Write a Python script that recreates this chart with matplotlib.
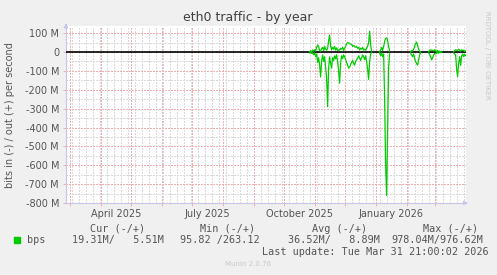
import numpy as np
import pandas as pd
import matplotlib
matplotlib.use("Agg")
import matplotlib.pyplot as plt
from matplotlib.transforms import blended_transform_factory

# Daily traffic in Mbit/s. Each segment is a run of days with data.
seg_starts = ["2025-10-26", "2026-01-04", "2026-02-04", "2026-02-22", "2026-03-19"]
out_vals = [
    [3, 6, 2, 10, 4, 12, 6, 25, 37, 30, 8, 4, 18, 25, 8, 30, 15, 10, 20, 60, 90, 30,
     12, 25, 15, 30, 10, 22, 8, 12, 10, 20, 15, 25, 8, 20, 30, 45, 50, 48, 45, 42, 40,
     30, 35, 28, 25, 30, 20, 25, 12, 20, 15, 25, 10, 15, 10, 20, 30, 50, 110, 40, 5],
    [2, 10, 25, 8, 30, 55, 72, 75, 60, 30, 5],
    [3, 8, 5, 15, 30, 45, 53, 35, 15, 5, 2],
    [2, 8, 12, 8, 10, 5, 12, 6, 3, 8, 2, 5, 1, 4],
    [2, 8, 12, 10, 8, 15, 10, 5, 12, 8, 10, 3, 5.51],
]
in_vals = [
    [5, 2, 8, 4, 14, 6, 25, 10, 55, 30, 70, 132, 45, 15, 50, 25, 80, 140, 290, 90, 25, 60,
     85, 30, 45, 20, 35, 15, 50, 100, 165, 60, 20, 35, 15, 25, 40, 55, 70, 85, 80, 65, 55,
     45, 60, 70, 50, 40, 35, 20, 30, 45, 30, 15, 25, 40, 20, 50, 90, 145, 50, 10, 3],
    [5, 20, 5, 25, 10, 250, 600, 760, 420, 80, 10],
    [5, 15, 25, 10, 35, 50, 62, 69, 40, 15, 3],
    [5, 12, 25, 42, 30, 15, 8, 10, 5, 3, 6, 2, 4, 1],
    [5, 10, 15, 90, 130, 60, 25, 70, 20, 10, 25, 12, 19.31],
]

y_ticks = [100, 0, -100, -200, -300, -400, -500, -600, -700, -800]
y_labels = ["100 M", "0", "-100 M", "-200 M", "-300 M", "-400 M",
            "-500 M", "-600 M", "-700 M", "-800 M"]
x_label_months = ["2025-04-16", "2025-07-16", "2025-10-16", "2026-01-16"]

t_start = pd.Timestamp("2025-02-24 21:00")
t_end = pd.Timestamp("2026-03-31 21:00")

green = "#00CC00"
major_c = "#F0B0B0"
minor_c = "#DADADA"
axis_c = "#C4C4EC"
text_c = "#555555"

W, H = 497, 275
fig = plt.figure(figsize=(W / 100, H / 100), dpi=100, facecolor="#F0F0F0")
ax = fig.add_axes([66 / W, 1 - 203 / H, 400 / W, 177 / H])
ax.set_facecolor("white")

ax.set_xlim(t_start, t_end)
ax.set_ylim(-800, 138)

# grid, drawn crisp like rrdtool's 1px dotted lines
grid = dict(lw=0.75, ls=(0, (1, 1)), zorder=1, antialiased=False)
for d in pd.date_range("2025-02-24", "2026-04-01", freq="W-MON"):
    ax.axvline(d, color=minor_c, **grid)
months = pd.date_range("2025-03-01", "2026-03-01", freq="MS")
for d in months:
    ax.axvline(d, color=major_c, **grid)
for v in np.arange(-750, 138, 100):
    ax.axhline(v, color=minor_c, **grid)
for v in y_ticks:
    ax.axhline(v, color=major_c, **grid)

ax.axhline(0, color="black", lw=1.2, zorder=3)

# traffic lines: out positive, in negative
for start, o, i in zip(seg_starts, out_vals, in_vals):
    days = pd.date_range(start, periods=len(o), freq="D") + pd.Timedelta(hours=12)
    ax.plot(days, o, color=green, lw=0.9, zorder=4)
    ax.plot(days, -np.array(i), color=green, lw=0.9, zorder=4)

for s in ["top", "right"]:
    ax.spines[s].set_visible(False)
for s in ["left", "bottom"]:
    ax.spines[s].set_color(axis_c)
    ax.spines[s].set_linewidth(0.8)

ax.set_yticks(y_ticks)
ax.set_yticklabels(y_labels)
ax.set_xticks(months)
ax.set_xticklabels([""] * len(months))
ax.tick_params(axis="both", colors=major_c, length=2, width=0.7, labelcolor=text_c,
               labelsize=7, pad=3)

trans = blended_transform_factory(ax.transData, ax.transAxes)
for m in x_label_months:
    d = pd.Timestamp(m)
    ax.text(d, -0.035, d.strftime("%B %Y"), transform=trans, ha="center", va="top",
            fontsize=7, color=text_c)

# axis arrows
ax.annotate("", xy=(1.012, 0), xytext=(0.99, 0), xycoords="axes fraction",
            arrowprops=dict(arrowstyle="-|>", color=axis_c, lw=0.8, mutation_scale=6),
            annotation_clip=False)
ax.annotate("", xy=(0, 1.03), xytext=(0, 0.99), xycoords="axes fraction",
            arrowprops=dict(arrowstyle="-|>", color=axis_c, lw=0.8, mutation_scale=6),
            annotation_clip=False)

fig.text(248 / W, 1 - 18 / H, "eth0 traffic - by year", ha="center", va="center",
         fontsize=9, color="#404040")
fig.text(10 / W, 1 - 115 / H, "bits in (-) / out (+) per second", rotation=90,
         ha="center", va="center", fontsize=7, color=text_c)
fig.text(487 / W, 1 - 55 / H, "RRDTOOL / TOBI OETIKER", rotation=270, ha="center",
         va="center", fontsize=5, color="#C8C8C8")

# legend block
mono = dict(family="DejaVu Sans Mono", fontsize=7.3, color=text_c, va="center")
for x, s in [(90, "Cur (-/+)"), (200, "Min (-/+)"), (312, "Avg (-/+)"), (423, "Max (-/+)")]:
    fig.text(x / W, 1 - 228.5 / H, s, **mono)
fig.patches.append(plt.Rectangle((14 / W, 1 - 243 / H), 6 / W, 6 / H, color=green,
                                 transform=fig.transFigure, figure=fig))
for x, s in [(27, "bps"), (72, "19.31M/   5.51M"), (180, "95.82 /263.12"),
             (288, "36.52M/   8.89M"), (391, "978.04M/976.62M")]:
    fig.text(x / W, 1 - 240 / H, s, **mono)
fig.text(262 / W, 1 - 252 / H, "Last update: Tue Mar 31 21:00:02 2026", **mono)
fig.text(248 / W, 1 - 264 / H, "Munin 2.0.76", ha="center", va="center", fontsize=5,
         color="#C8C8C8")

fig.savefig("out.png", dpi=100, facecolor=fig.get_facecolor())
